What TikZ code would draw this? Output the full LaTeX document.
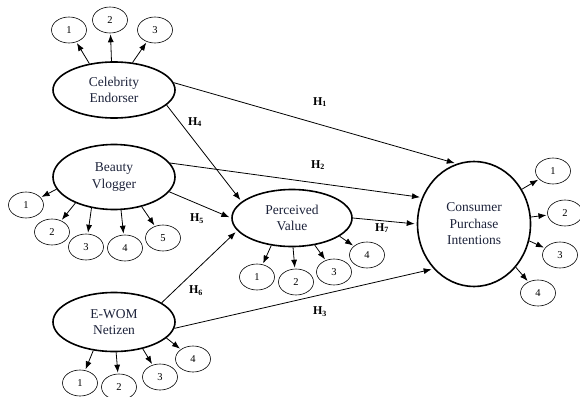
\documentclass[tikz,border=0pt]{standalone}
\usepackage{fontspec}
\setmainfont{Liberation Serif}
\usetikzlibrary{shapes,arrows.meta,positioning}

\definecolor{navytext}{RGB}{28,34,58}

\tikzset{
    latent/.style={ellipse, draw, line width=1.6pt, inner sep=0pt, align=center,
        text=navytext, font=\fontsize{13.5}{16.5}\selectfont},
    item/.style={ellipse, draw, line width=0.6pt, minimum width=35pt,
        minimum height=26pt, inner sep=0pt, font=\fontsize{10.5}{12}\selectfont},
    load/.style={-{Latex[length=8pt,width=6pt]}, line width=0.8pt, shorten >=1pt},
    hyp/.style={-{Latex[length=8pt,width=6pt]}, line width=0.8pt, shorten >=2pt},
    hlabel/.style={font=\fontsize{12}{14}\selectfont\bfseries}
}

\begin{document}
\begin{tikzpicture}[x=1pt, y=-1pt]
    \useasboundingbox (0,0) rectangle (580,396);

    % Konstrukte
    \node[latent, minimum width=122pt, minimum height=56pt] (ce) at (114,90) {Celebrity\\Endorser};
    \node[latent, minimum width=122pt, minimum height=65pt] (bv) at (114,177) {Beauty\\Vlogger};
    \node[latent, minimum width=122pt, minimum height=59pt] (ew) at (114,322) {E-WOM\\Netizen};
    \node[latent, minimum width=120pt, minimum height=57pt] (pv) at (292,218) {Perceived\\Value};
    \node[latent, minimum width=113pt, minimum height=125pt] (cp) at (474,224) {Consumer\\Purchase\\Intentions};

    % Indikatoren
    \foreach \n/\x/\y/\a in {1/69/30/133, 2/110/20/95, 3/155/30/56} {
        \node[item] (ce\n) at (\x,\y) {\n};
        \draw[load] (ce.\a) -- (ce\n);
    }
    \foreach \n/\x/\y/\a in {1/26/205/192, 2/52/232/214, 3/86/247/234, 4/125/248/282, 5/163/238/313} {
        \node[item] (bv\n) at (\x,\y) {\n};
        \draw[load] (bv.\a) -- (bv\n);
    }
    \foreach \n/\x/\y/\a in {1/80/383/234, 2/119/387/274, 3/160/377/317, 4/193/359/343} {
        \node[item] (ew\n) at (\x,\y) {\n};
        \draw[load] (ew.\a) -- (ew\n);
    }
    \foreach \n/\x/\y/\a in {1/257/277/233, 2/296/282/272, 3/334/272/310, 4/367/255/339} {
        \node[item] (pv\n) at (\x,\y) {\n};
        \draw[load] (pv.\a) -- (pv\n);
    }
    \foreach \n/\x/\y/\a in {1/553/171/36, 2/565/213/7, 3/560/255/343, 4/538/293/314} {
        \node[item] (cp\n) at (\x,\y) {\n};
        \draw[load] (cp.\a) -- (cp\n);
    }

    % Hypothesen
    \draw[hyp] (ce.7) -- (cp.106);
    \draw[hyp] (bv.14) -- (cp.153);
    \draw[hyp] (ew.354) -- (cp.228);
    \draw[hyp] (ce.344) -- (pv.162);
    \draw[hyp] (bv.345) -- (pv.180);
    \draw[hyp] (ew.22) -- (pv.193);
    \draw[hyp] (pv.east) -- (cp.west);

    \node[hlabel] (h1) at (320,102) {H\textsubscript{1}};
    \node[hlabel] (h2) at (318,165) {H\textsubscript{2}};
    \node[hlabel] (h3) at (320,312) {H\textsubscript{3}};
    \node[hlabel] (h4) at (195,122) {H\textsubscript{4}};
    \node[hlabel] (h5) at (197,219) {H\textsubscript{5}};
    \node[hlabel] (h6) at (196,291) {H\textsubscript{6}};
    \node[hlabel] (h7) at (382,228) {H\textsubscript{7}};
\end{tikzpicture}
\end{document}
